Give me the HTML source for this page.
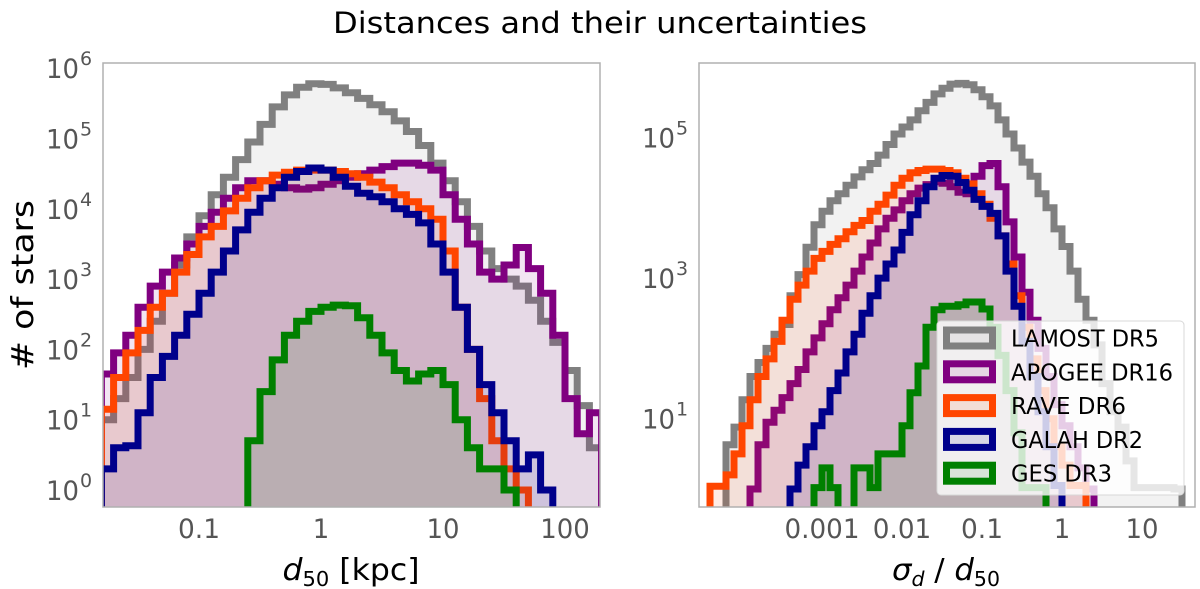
<!DOCTYPE html>
<html><head><meta charset="utf-8">
<style>
body{margin:0;background:#fff;}
svg{display:block;font-family:"DejaVu Sans","Liberation Sans",sans-serif;}
.tick{fill:#555;font-size:27px;}
</style></head>
<body>
<svg id="fig" width="1200" height="589" viewBox="0 0 1200 589" xmlns="http://www.w3.org/2000/svg">
<defs>
<clipPath id="clipL"><rect x="103" y="63" width="497" height="444"/></clipPath>
<clipPath id="clipR"><rect x="699" y="63" width="496" height="444"/></clipPath>
</defs>
<text x="600" y="33" text-anchor="middle" font-size="29" fill="#000" textLength="534" lengthAdjust="spacingAndGlyphs">Distances and their uncertainties</text>
<g id="left"></g>
<g id="right"></g>
<rect x="103" y="63" width="497" height="444" fill="none" stroke="#b0b0b0" stroke-width="1.5"/>
<rect x="699" y="63" width="496" height="444" fill="none" stroke="#b0b0b0" stroke-width="1.5"/>
<text transform="translate(33,285) rotate(-90)" text-anchor="middle" font-size="30" fill="#000" textLength="170" lengthAdjust="spacingAndGlyphs"># of stars</text>
<text x="351" y="580" text-anchor="middle" font-size="30" fill="#000" textLength="137" lengthAdjust="spacingAndGlyphs"><tspan font-style="italic">d</tspan><tspan font-size="20" dy="6">50</tspan><tspan dy="-6"> [kpc]</tspan></text>
<text x="946" y="580" text-anchor="middle" font-size="30" fill="#000" textLength="108" lengthAdjust="spacingAndGlyphs"><tspan font-style="italic">σ</tspan><tspan font-size="20" dy="6" font-style="italic">d</tspan><tspan dy="-6"> / </tspan><tspan font-style="italic">d</tspan><tspan font-size="20" dy="6">50</tspan></text>
<g id="legend"></g>
</svg>
<script>
const names = ["LAMOST DR5","APOGEE DR16","RAVE DR6","GALAH DR2","GES DR3"];
const colors = ["#808080","#800080","#ff4500","#00008b","#008000"];
const legendWidths = [148,162,115,132,101];
// Left panel: log10(d50) bins, 0.1 dex, starting at -1.8
const leftStart = -1.8;
const leftLAMOST = [1.0,1.3,1.6,2.0,2.4,2.8,3.2,3.6,3.9,4.2,4.45,4.7,4.95,5.2,5.45,5.62,5.73,5.78,5.77,5.72,5.65,5.57,5.48,5.38,5.25,5.1,4.9,4.65,4.4,4.1,3.75,3.4,3.15,3.0,2.9,2.7,2.4,2.1,1.7,1.2,0.6];
const leftAPOGEE = [1.65,1.95,2.2,2.6,2.9,3.1,3.3,3.5,3.75,3.95,4.15,4.3,4.4,4.4,4.35,4.3,4.28,4.3,4.35,4.4,4.45,4.5,4.55,4.6,4.65,4.65,4.62,4.55,4.2,3.85,3.5,3.1,3.0,3.2,3.45,3.15,2.8,2.2,1.3,0.8,1.1];
const leftRAVE = [1.15,1.6,1.95,2.27,2.6,2.8,3.1,3.35,3.6,3.75,3.97,4.15,4.3,4.4,4.48,4.52,4.55,4.55,4.55,4.53,4.5,4.45,4.38,4.3,4.2,4.1,4.0,3.85,3.4,2.6,2.0,1.3,0.7,0.3,0.0,null,null,null,null,null,null];
const leftGALAH = [0.3,0.6,0.63,1.1,1.6,1.9,2.2,2.5,2.8,3.1,3.4,3.7,3.95,4.15,4.3,4.45,4.53,4.58,4.55,4.45,4.32,4.22,4.17,4.1,4.0,3.92,3.8,3.5,3.1,2.6,2.0,1.5,1.1,0.7,0.3,0.5,0.0,null,null,null,null];
const leftGES = [null,null,null,null,null,null,null,null,null,null,null,null,0.7,1.4,1.85,2.2,2.4,2.54,2.6,2.63,2.62,2.45,2.2,1.95,1.7,1.55,1.65,1.7,1.5,1.0,0.6,0.3,0.3,0.0,null,null,null,null,null,null,null];
// Right panel: log10(sigma/d50) bins, 0.1 dex, starting at -4.5
const rightStart = -4.5;
const rightLAMOST = [null,null,null,0.63,0.88,1.27,1.6,1.8,2.0,2.2,2.34,2.75,3.05,3.44,3.76,3.95,4.1,4.2,4.32,4.44,4.54,4.63,4.75,4.9,5.05,5.15,5.25,5.38,5.5,5.62,5.7,5.76,5.77,5.75,5.68,5.58,5.45,5.25,5.05,4.85,4.65,4.45,4.2,4.0,3.7,3.45,3.1,2.7,2.4,2.05,1.5,1.1,0.88,0.4,0.02,0.02,0.02,0.02,0.02,0.0,null];
const rightAPOGEE = [null,null,null,null,null,null,0.0,0.63,0.95,1.12,1.3,1.5,1.7,1.95,2.15,2.35,2.55,2.72,2.9,3.1,3.3,3.5,3.7,3.85,3.97,4.1,4.2,4.28,4.33,4.37,4.35,4.3,4.22,4.2,4.45,4.6,4.63,4.3,3.8,3.3,2.8,2.4,2.0,1.6,1.2,0.9,0.6,0.3,0.0,null,null,null,null,null,null,null,null,null,null,null,null];
const rightRAVE = [null,0.04,0.04,0.2,0.5,0.9,1.27,1.6,1.85,2.1,2.4,2.7,2.9,3.1,3.28,3.38,3.48,3.56,3.66,3.75,3.82,3.95,4.05,4.18,4.32,4.42,4.5,4.53,4.55,4.55,4.53,4.5,4.42,4.34,4.2,4.05,3.85,3.6,3.2,2.75,2.3,1.85,1.4,1.0,0.6,0.34,0.05,0.05,null,null,null,null,null,null,null,null,null,null,null,null,null];
const rightGALAH = [null,null,null,null,null,null,null,null,null,null,null,0.0,0.34,0.6,0.9,1.1,1.4,1.65,1.95,2.2,2.5,2.75,3.0,3.2,3.4,3.65,3.9,4.1,4.3,4.42,4.46,4.45,4.36,4.25,4.12,4.02,3.92,3.6,3.1,2.6,2.1,1.6,1.1,0.6,0.05,null,null,null,null,null,null,null,null,null,null,null,null,null,null,null,null];
const rightGES = [null,null,null,null,null,null,null,null,null,null,null,null,null,null,0.02,0.3,0.02,null,null,0.3,0.3,0.02,0.5,0.5,0.5,0.9,1.37,1.75,2.3,2.55,2.6,2.6,2.62,2.66,2.66,2.56,2.3,1.9,1.4,0.8,0.02,0.02,0.02,null,null,null,null,null,null,null,null,null,null,null,null,null,null,null,null,null,null];
const leftXTicks = [-1,0,1,2];
const leftXLabels = ["0.1","1","10","100"];
const leftYTicks = [0,1,2,3,4,5,6];
const rightXTicks = [-3,-2,-1,0,1];
const rightXLabels = ["0.001","0.01","0.1","1","10"];
const rightYTicks = [1,3,5];

const NS="http://www.w3.org/2000/svg";
function mk(tag,attrs,parent){const e=document.createElementNS(NS,tag);for(const k in attrs)e.setAttribute(k,attrs[k]);parent.appendChild(e);return e;}
const xL=v=>321+122*v, yL=v=>490-70.3*v;
const xR=v=>1062+80*v, yR=v=>489-70.3*v;
function stepPath(vals,start,xf,yf){
  const bottom=yf(-1);
  let d="M"+xf(start).toFixed(1)+","+bottom;
  vals.forEach((v,i)=>{
    const y=(v===null)?bottom:yf(v);
    d+=" L"+xf(start+0.1*i).toFixed(1)+","+y.toFixed(1)+" L"+xf(start+0.1*(i+1)).toFixed(1)+","+y.toFixed(1);
  });
  d+=" L"+xf(start+0.1*vals.length).toFixed(1)+","+bottom;
  return d;
}
function panel(g,series,start,xf,yf,clip,side){
  const cg=mk("g",{"clip-path":"url(#"+clip+")"},g);
  series.forEach((vals,k)=>{
    const d=stepPath(vals,start,xf,yf);
    const f=mk("path",{d:d+" Z",fill:colors[k],"fill-opacity":"0.1",stroke:"none"},cg);
    
    
    const l=mk("path",{d:d,fill:"none",stroke:colors[k],"stroke-width":"7","stroke-linejoin":"miter"},cg);
    
    
  });
}
const gl=document.getElementById("left"), gr=document.getElementById("right");
panel(gl,[leftLAMOST,leftAPOGEE,leftRAVE,leftGALAH,leftGES],leftStart,xL,yL,"clipL","left");
panel(gr,[rightLAMOST,rightAPOGEE,rightRAVE,rightGALAH,rightGES],rightStart,xR,yR,"clipR","right");
function labelWidth(s){let w=0;for(const c of s)w+=(c==='.')?9:16.5;return w;}
function yTick(g,v,xr,yf){
  const t=mk("text",{x:xr-48,y:yf(v)+10,"text-anchor":"start",class:"tick"},g);
  
  
  const a=document.createElementNS(NS,"tspan");a.setAttribute("textLength","33");a.setAttribute("lengthAdjust","spacingAndGlyphs");a.textContent="10";t.appendChild(a);
  const b=document.createElementNS(NS,"tspan");b.setAttribute("font-size","19");b.setAttribute("dy","-13");b.setAttribute("x",String(xr-14));b.textContent=String(v);t.appendChild(b);
}
leftYTicks.forEach(v=>yTick(gl,v,94,yL));
rightYTicks.forEach(v=>yTick(gr,v,690,yR));
leftXTicks.forEach((v,i)=>{const t=mk("text",{x:xL(v),y:538,"text-anchor":"middle",class:"tick",textLength:labelWidth(leftXLabels[i]),lengthAdjust:"spacingAndGlyphs"},gl);t.textContent=leftXLabels[i];
  
  });
rightXTicks.forEach((v,i)=>{const t=mk("text",{x:xR(v),y:538,"text-anchor":"middle",class:"tick",textLength:labelWidth(rightXLabels[i]),lengthAdjust:"spacingAndGlyphs"},gr);t.textContent=rightXLabels[i];
  
  });
// legend
const lg=document.getElementById("legend");
const lb=mk("rect",{x:937,y:321,width:247,height:174,rx:4,fill:"#fff","fill-opacity":"0.8",stroke:"#d8d8d8","stroke-width":"1"},lg);


names.forEach((n,k)=>{
  const cy=338+33.8*k;
  const p=mk("rect",{x:946.5,y:cy-8,width:46,height:16,fill:colors[k],"fill-opacity":"0.1",stroke:colors[k],"stroke-width":"7"},lg);
  
  
  const t=mk("text",{x:1011,y:cy+8.5,"font-size":"23",fill:"#000",textLength:legendWidths[k],lengthAdjust:"spacingAndGlyphs"},lg);
  t.textContent=n;
  
  
});
</script>
</body></html>
